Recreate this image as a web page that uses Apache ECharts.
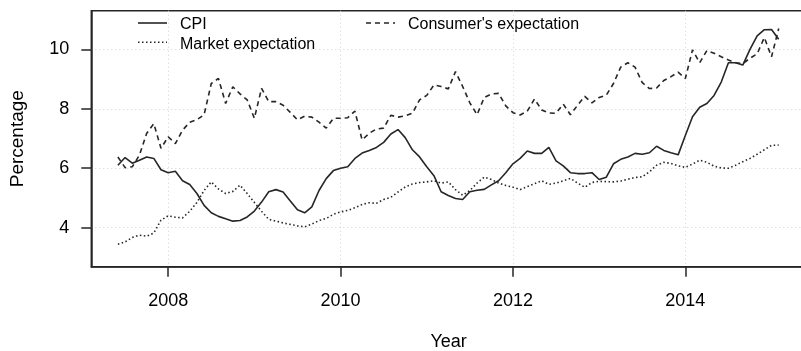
<!DOCTYPE html>
<html>
<head>
<meta charset="utf-8">
<script src="https://cdn.jsdelivr.net/npm/echarts@6/dist/echarts.min.js"></script>
<style>
  html, body { margin: 0; padding: 0; background: #fff; }
  #chart { width: 801px; height: 351px; }
</style>
</head>
<body>
<div id="chart"></div>
<script>
// Monthly observations, June 2007 through January 2015
const firstYear = 2007;
const firstMonth = 6;

const cpi = [
  6.10, 6.36, 6.17, 6.27, 6.38, 6.33, 5.95, 5.85, 5.90, 5.58, 5.45, 5.15,
  4.75, 4.50, 4.38, 4.30, 4.22, 4.24, 4.36, 4.56, 4.86, 5.21, 5.28, 5.20,
  4.90, 4.60, 4.50, 4.70, 5.25, 5.65, 5.92, 6.00, 6.05, 6.33, 6.51, 6.60,
  6.70, 6.87, 7.15, 7.30, 7.03, 6.62, 6.38, 6.05, 5.75, 5.21, 5.08, 4.98,
  4.95, 5.21, 5.26, 5.29, 5.44, 5.58, 5.85, 6.15, 6.33, 6.58, 6.50, 6.50,
  6.70, 6.25, 6.08, 5.85, 5.82, 5.82, 5.85, 5.62, 5.70, 6.15, 6.30, 6.38,
  6.50, 6.47, 6.52, 6.74, 6.60, 6.52, 6.45, 7.10, 7.73, 8.05, 8.18, 8.45,
  8.90, 9.55, 9.55, 9.47, 10.00, 10.45, 10.66, 10.67, 10.34
];

const marketExpectation = [
  3.44, 3.52, 3.67, 3.75, 3.71, 3.82, 4.25, 4.40, 4.35, 4.33, 4.55, 4.85,
  5.25, 5.54, 5.30, 5.15, 5.22, 5.43, 5.15, 4.85, 4.55, 4.28, 4.22, 4.16,
  4.11, 4.06, 4.03, 4.12, 4.24, 4.31, 4.45, 4.53, 4.58, 4.67, 4.78, 4.84,
  4.82, 4.95, 5.02, 5.20, 5.37, 5.47, 5.52, 5.54, 5.58, 5.50, 5.54, 5.28,
  5.09, 5.25, 5.50, 5.70, 5.62, 5.50, 5.42, 5.36, 5.28, 5.38, 5.48, 5.58,
  5.46, 5.50, 5.58, 5.66, 5.50, 5.36, 5.52, 5.56, 5.55, 5.54, 5.57, 5.63,
  5.69, 5.71, 5.88, 6.10, 6.20, 6.16, 6.08, 6.03, 6.14, 6.27, 6.20, 6.07,
  6.01, 6.00, 6.10, 6.22, 6.33, 6.47, 6.62, 6.77, 6.78
];

const consumerExpectation = [
  6.38, 6.02, 6.05, 6.44, 7.17, 7.50, 6.67, 7.06, 6.83, 7.28, 7.55, 7.63,
  7.80, 8.85, 9.02, 8.18, 8.74, 8.50, 8.30, 7.68, 8.69, 8.24, 8.24, 8.12,
  7.88, 7.63, 7.75, 7.72, 7.55, 7.35, 7.68, 7.68, 7.70, 7.92, 6.95, 7.18,
  7.32, 7.35, 7.78, 7.72, 7.76, 7.85, 8.30, 8.45, 8.80, 8.75, 8.67, 9.25,
  8.75, 8.20, 7.80, 8.38, 8.50, 8.52, 8.10, 7.87, 7.79, 7.92, 8.33, 7.96,
  7.86, 7.85, 8.16, 7.80, 8.12, 8.42, 8.20, 8.38, 8.46, 8.85, 9.40, 9.55,
  9.40, 8.88, 8.68, 8.70, 8.95, 9.08, 9.23, 9.02, 9.98, 9.55, 9.96, 9.87,
  9.75, 9.64, 9.55, 9.52, 9.70, 9.85, 10.40, 9.75, 10.70
];

const yearTicks = [2008, 2010, 2012, 2014];
const percentTicks = [4, 6, 8, 10];

// Decimal-year position of each monthly observation
function monthTimes(n) {
  const t = [];
  for (let i = 0; i < n; i++) {
    const m = firstMonth - 1 + i;
    t.push(firstYear + Math.floor(m / 12) + (m % 12) / 12);
  }
  return t;
}
const times = monthTimes(cpi.length);
const pairs = vals => vals.map((v, i) => [times[i], v]);

const ink = '#262626';
const textFont = '"Liberation Sans", Arial, Helvetica, sans-serif';
const gridStyle = { color: '#d0d0d0', type: [1, 3], width: 1 };

const styles = {
  solid: 'solid',
  dotted: [1.5, 2.5],
  dashed: [5, 4]
};

const chart = echarts.init(document.getElementById('chart'), null, { renderer: 'canvas' });

const lineSeries = (name, vals, type) => ({
  name,
  type: 'line',
  data: pairs(vals),
  showSymbol: false,
  symbol: 'none',
  lineStyle: { color: ink, width: 1.6, type },
  itemStyle: { color: ink },
  emphasis: { disabled: true },
  animation: false
});

// Key entries: sample line, then label
function keyEntry(x, y, label, dash) {
  return [
    {
      type: 'line',
      shape: { x1: x, y1: y, x2: x + 29, y2: y },
      style: { stroke: ink, lineWidth: 1.6, lineDash: dash === 'solid' ? null : dash }
    },
    {
      type: 'text',
      x: x + 42, y: y + 2,
      style: { text: label, font: '16px ' + textFont, fill: '#000', verticalAlign: 'middle', align: 'left' }
    }
  ];
}

chart.setOption({
  backgroundColor: '#fff',
  animation: false,
  grid: {
    left: 91.3, top: 10.7, right: -5, bottom: 84.3,
    outerBoundsMode: 'none',
    containLabel: false,
    show: true, borderColor: ink, borderWidth: 1.5, backgroundColor: 'transparent'
  },
  graphic: [
    ...keyEntry(138, 23, 'CPI', styles.solid),
    ...keyEntry(138, 42.3, 'Market expectation', styles.dotted),
    ...keyEntry(366, 23, "Consumer's expectation", styles.dashed)
  ],
  xAxis: {
    type: 'value',
    min: 2007.108,
    max: 2015.40,
    name: 'Year',
    nameLocation: 'middle',
    nameGap: 66,
    nameTextStyle: { fontSize: 18, fontFamily: textFont, color: '#000' },
    axisLine: { show: true, onZero: false, lineStyle: { color: ink, width: 1.5 } },
    axisTick: { show: true, length: 10, customValues: yearTicks, lineStyle: { color: ink, width: 1.5 } },
    axisLabel: { customValues: yearTicks, fontSize: 18, fontFamily: textFont, color: '#000', margin: 25,
                 formatter: v => String(v) },
    splitLine: { show: true, lineStyle: gridStyle }
  },
  yAxis: {
    type: 'value',
    min: 2.687,
    max: 11.30,
    name: 'Percentage',
    nameLocation: 'middle',
    nameGap: 64,
    nameRotate: 90,
    nameTextStyle: { fontSize: 19, fontFamily: textFont, color: '#000' },
    axisLine: { show: true, onZero: false, lineStyle: { color: ink, width: 1.5 } },
    axisTick: { show: true, length: 10, customValues: percentTicks, lineStyle: { color: ink, width: 1.5 } },
    axisLabel: { customValues: percentTicks, fontSize: 18, fontFamily: textFont, color: '#000', margin: 22,
                 formatter: v => String(v) },
    splitLine: { show: true, lineStyle: gridStyle }
  },
  series: [
    lineSeries('CPI', cpi, styles.solid),
    lineSeries('Market expectation', marketExpectation, styles.dotted),
    lineSeries("Consumer's expectation", consumerExpectation, styles.dashed)
  ]
});
</script>
</body>
</html>
